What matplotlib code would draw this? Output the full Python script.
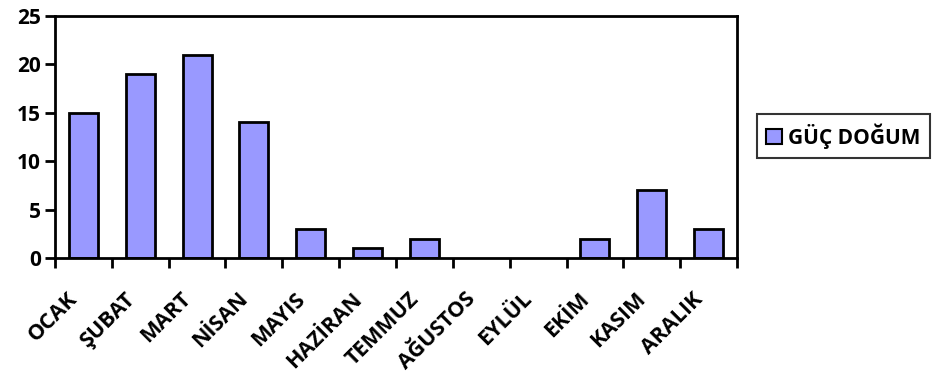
import matplotlib
matplotlib.use("Agg")
import matplotlib.pyplot as plt
from matplotlib.patches import Patch
from matplotlib.transforms import ScaledTranslation

months = ["OCAK", "ŞUBAT", "MART", "NİSAN", "MAYIS", "HAZİRAN", "TEMMUZ",
          "AĞUSTOS", "EYLÜL", "EKİM", "KASIM", "ARALIK"]
guc_dogum = [15, 19, 21, 14, 3, 1, 2, 0, 0, 2, 7, 3]
y_ticks = [0, 5, 10, 15, 20, 25]
series_name = "GÜÇ DOĞUM"

plt.rcParams['font.family'] = ['Open Sans', 'DejaVu Sans']
plt.rcParams['font.weight'] = 'bold'

DPI = 100
fig = plt.figure(figsize=(9.35, 3.74), dpi=DPI)
ax = fig.add_axes([55 / 935, 1 - 258 / 374, (737 - 55) / 935, (258 - 16) / 374])

x = list(range(len(months)))
edges = ["black" if v > 0 else "none" for v in guc_dogum]
ax.bar(x, guc_dogum, width=0.51, color="#9999FF", edgecolor=edges, linewidth=2)

ax.set_xlim(-0.5, len(months) - 0.5)
ax.set_ylim(0, 25)
ax.set_yticks(y_ticks)
ax.set_yticklabels([str(v) for v in y_ticks], fontsize=15, fontweight='bold')

# ticks at category boundaries
ax.set_xticks([i - 0.5 for i in range(len(months) + 1)])
ax.set_xticklabels([])
ax.tick_params(axis='x', length=7, width=2, direction='out')
ax.tick_params(axis='y', length=7, width=2, direction='out', pad=3)

# rotated month names under each category
offset = ScaledTranslation(-9 / DPI, -38 / DPI, fig.dpi_scale_trans)
for i, m in enumerate(months):
    ax.text(i, 0, m, transform=ax.get_xaxis_transform() + offset,
            rotation=45, rotation_mode='anchor', ha='right', va='center',
            fontsize=15.5, fontweight='bold')

for s in ax.spines.values():
    s.set_linewidth(2)

handle = Patch(facecolor="#9999FF", edgecolor="black", linewidth=1.5)
leg = fig.legend([handle], [series_name], loc='center left',
                 bbox_to_anchor=(757 / 935, 1 - 136 / 374),
                 prop={'size': 15, 'weight': 'bold'}, frameon=True, fancybox=False,
                 handlelength=0.75, handleheight=0.75, handletextpad=0.3,
                 borderpad=0.45, borderaxespad=0)
leg.get_frame().set_edgecolor('black')
leg.get_frame().set_linewidth(1.5)

fig.savefig("out.png", dpi=DPI)
